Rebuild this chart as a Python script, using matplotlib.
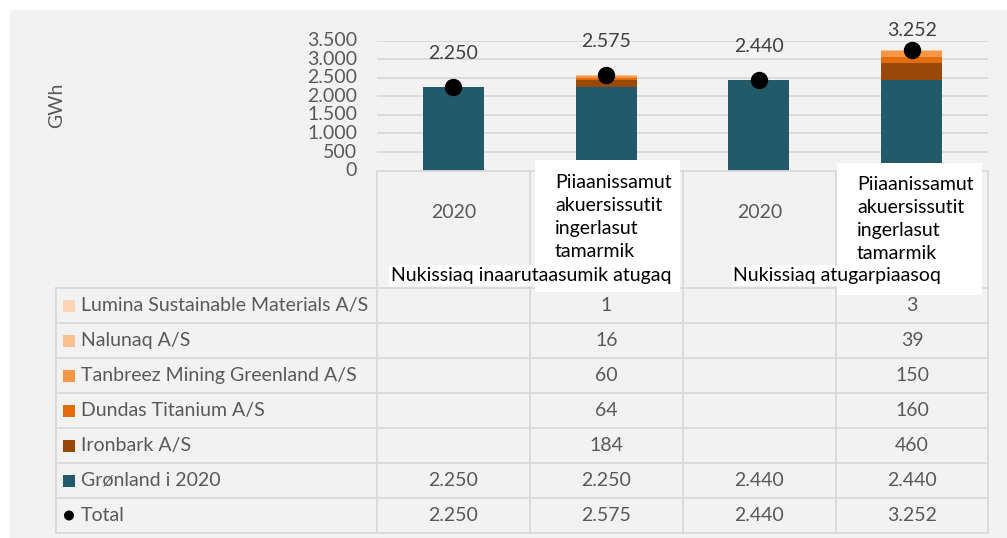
import matplotlib
matplotlib.use("Agg")
import matplotlib.pyplot as plt
from matplotlib.patches import Rectangle, Circle

plt.rcParams['font.family'] = ['Lato', 'DejaVu Sans']

# ---------------- data ----------------
categories = ["2020", "Piiaanissamut\nakuersissutit\ningerlasut\ntamarmik",
              "2020", "Piiaanissamut\nakuersissutit\ningerlasut\ntamarmik"]
groups = ["Nukissiaq inaarutaasumik atugaq", "Nukissiaq atugarpiaasoq"]
series_names = ["Grønland i 2020", "Ironbark A/S", "Dundas Titanium A/S",
                "Tanbreez Mining Greenland A/S", "Nalunaq A/S",
                "Lumina Sustainable Materials A/S"]
gronland = [2250, 2250, 2440, 2440]
ironbark = [None, 184, None, 460]
dundas = [None, 64, None, 160]
tanbreez = [None, 60, None, 150]
nalunaq = [None, 16, None, 39]
lumina = [None, 1, None, 3]
total = [2250, 2575, 2440, 3252]
y_ticks = [0, 500, 1000, 1500, 2000, 2500, 3000, 3500]
y_label = "GWh"

colors = ["#235A69", "#984807", "#E46C0A", "#F79646", "#FAC090", "#FCD5B5"]
series_vals = [gronland, ironbark, dundas, tanbreez, nalunaq, lumina]

# ---------------- layout helpers ----------------
W, H = 1007, 538
fig = plt.figure(figsize=(W / 100, H / 100), dpi=100, facecolor="white")
FS = 14

def fx(x):
    return x / W

def fy(y):
    return 1 - y / H

GRID = "#D9D9D9"
TXT = "#595959"

# background panel
bg = fig.add_axes([0, 0, 1, 1], zorder=-5)
bg.set_xlim(0, W); bg.set_ylim(H, 0); bg.axis("off")
bg.add_patch(Rectangle((10, 10), W - 10, H - 10, facecolor="#F2F2F2", edgecolor="none"))

# main chart axes
ax_l, ax_r, ax_t, ax_b = 377, 988, 40.5, 170.6
ax = fig.add_axes([fx(ax_l), fy(ax_b), fx(ax_r - ax_l), (ax_b - ax_t) / H], zorder=1)
ax.set_facecolor("none")
ax.set_xlim(-0.5, 3.5)
ax.set_ylim(0, 3500)
for s in ax.spines.values():
    s.set_visible(False)
ax.set_yticks(y_ticks)
ax.set_yticklabels([f"{t:,}".replace(",", ".") for t in y_ticks], color=TXT, fontsize=FS)
ax.tick_params(axis="y", length=0, pad=14.4)
for lbl in ax.get_yticklabels():
    lbl.set_verticalalignment("center")
ax.set_xticks([])
for t in y_ticks[1:]:
    ax.axhline(t, color=GRID, lw=1.3, zorder=0)

xs = list(range(len(categories)))
bottoms = [0.0] * len(xs)
for vals, col in zip(series_vals, colors):
    h = [v if v is not None else 0 for v in vals]
    ax.bar(xs, h, width=0.4, bottom=bottoms, color=col, edgecolor="none",
           linewidth=0, zorder=2)
    bottoms = [b + v for b, v in zip(bottoms, h)]

ax.plot(xs, total, linestyle="none", marker="o", markersize=11.5, color="black", zorder=4)

fig.canvas.draw()
for i, v in enumerate(total):
    dot_top = H - ax.transData.transform((i, v))[1]
    off = min(33, dot_top - 30)
    ax.annotate(f"{v:,}".replace(",", "."), xy=(i, v), xytext=(0, off),
                textcoords="offset pixels", ha="center", va="center",
                fontsize=FS, color="#404040", annotation_clip=False)

fig.text(fx(57), fy(105), y_label, rotation=90, ha="center", va="center",
         color=TXT, fontsize=FS)

# ---------------- overlay: category area + table ----------------
ov = fig.add_axes([0, 0, 1, 1], zorder=5)
ov.set_facecolor("none")
ov.set_xlim(0, W); ov.set_ylim(H, 0); ov.axis("off")

col_edges = [377, 530, 683, 836, 988]
lab_left = 56
row_top = 288
row_h = 35.0
n_rows = 7
row_edges = [row_top + i * row_h for i in range(n_rows + 1)]
lw = 1.3

# category area lines
ov.plot([col_edges[0], col_edges[-1]], [ax_b, ax_b], color=GRID, lw=lw)
for x in col_edges:
    ov.plot([x, x], [ax_b, row_top], color=GRID, lw=lw)
# table lines
for y in row_edges:
    ov.plot([lab_left, col_edges[-1]], [y, y], color=GRID, lw=lw)
for x in [lab_left] + col_edges:
    ov.plot([x, x], [row_edges[0], row_edges[-1]], color=GRID, lw=lw)

col_centers = [(a + b) / 2 for a, b in zip(col_edges[:-1], col_edges[1:])]

# category labels (plain ones)
for i, c in enumerate(categories):
    if "\n" not in c:
        ov.text(col_centers[i], 212, c, ha="center", va="center", color=TXT, fontsize=FS)

# table rows (top to bottom)
table_rows = [(series_names[5], lumina, colors[5]),
              (series_names[4], nalunaq, colors[4]),
              (series_names[3], tanbreez, colors[3]),
              (series_names[2], dundas, colors[2]),
              (series_names[1], ironbark, colors[1]),
              (series_names[0], gronland, colors[0]),
              ("Total", total, None)]
for r, (name, vals, col) in enumerate(table_rows):
    yc = row_edges[r] + row_h / 2
    if col is not None:
        ov.add_patch(Rectangle((63, yc - 6), 12, 12, facecolor=col, edgecolor="none"))
    else:
        ov.add_patch(Circle((69, yc), 5, facecolor="black", edgecolor="none"))
    ov.text(81, yc, name, ha="left", va="center", color=TXT, fontsize=FS)
    for i, v in enumerate(vals):
        if v is not None:
            ov.text(col_centers[i], yc, f"{v:,}".replace(",", "."), ha="center",
                    va="center", color=TXT, fontsize=FS)

# white text boxes (multi-line category labels and group labels)
ov.add_patch(Rectangle((389, 265), 680 - 389, 21, facecolor="white", edgecolor="none", zorder=6))
ov.add_patch(Rectangle((732, 265), 840 - 732, 21, facecolor="white", edgecolor="none", zorder=6))
ov.add_patch(Rectangle((535, 160), 680 - 535, 132, facecolor="white", edgecolor="none", zorder=6))
ov.add_patch(Rectangle((837, 163), 982 - 837, 132, facecolor="white", edgecolor="none", zorder=6))

box_pos = {1: (555, 174), 3: (857, 176)}
for i, (bx, by) in box_pos.items():
    ov.text(bx, by, categories[i], ha="left", va="top", color="black",
            fontsize=FS, linespacing=1.42, zorder=7)

ov.text(391, 275.5, groups[0], ha="left", va="center", color="black", fontsize=FS, zorder=7)
ov.text(733, 276, groups[1], ha="left", va="center", color="black", fontsize=FS, zorder=7)

fig.savefig("out.png", dpi=100, facecolor="white")
